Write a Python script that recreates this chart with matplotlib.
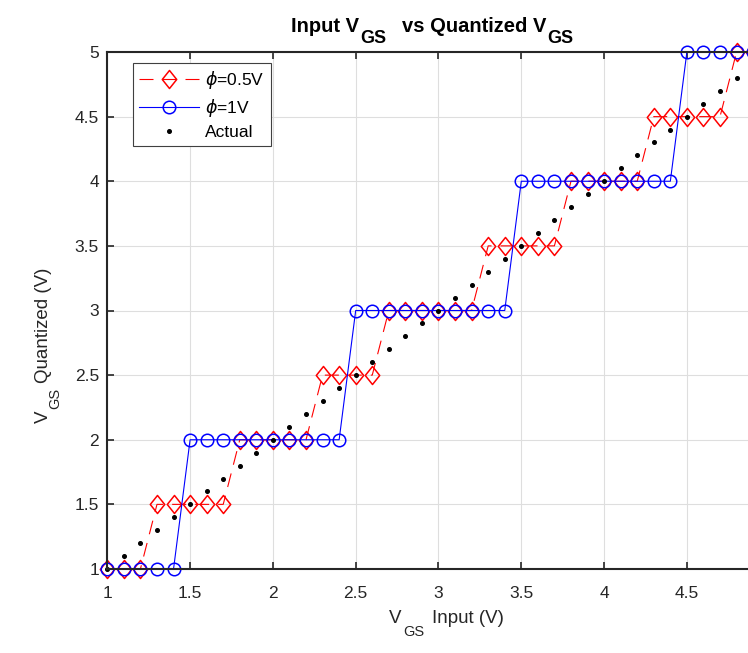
import matplotlib
matplotlib.use("Agg")
import matplotlib.pyplot as plt
from matplotlib.path import Path
from matplotlib.transforms import IdentityTransform
from matplotlib.font_manager import FontProperties

plt.rcParams["font.family"] = ["Liberation Sans", "DejaVu Sans"]
plt.rcParams["mathtext.default"] = "regular"

# ── Data ──────────────────────────────────────────────────────────────────────
vgs_in = [1.0, 1.1, 1.2, 1.3, 1.4, 1.5, 1.6, 1.7, 1.8, 1.9,
          2.0, 2.1, 2.2, 2.3, 2.4, 2.5, 2.6, 2.7, 2.8, 2.9,
          3.0, 3.1, 3.2, 3.3, 3.4, 3.5, 3.6, 3.7, 3.8, 3.9,
          4.0, 4.1, 4.2, 4.3, 4.4, 4.5, 4.6, 4.7, 4.8, 4.9]
q_half = [1, 1, 1, 1.5, 1.5, 1.5, 1.5, 1.5, 2, 2,
          2, 2, 2, 2.5, 2.5, 2.5, 2.5, 3, 3, 3,
          3, 3, 3, 3.5, 3.5, 3.5, 3.5, 3.5, 4, 4,
          4, 4, 4, 4.5, 4.5, 4.5, 4.5, 4.5, 5, 5]
q_one = [1, 1, 1, 1, 1, 2, 2, 2, 2, 2,
         2, 2, 2, 2, 2, 3, 3, 3, 3, 3,
         3, 3, 3, 3, 3, 4, 4, 4, 4, 4,
         4, 4, 4, 4, 4, 5, 5, 5, 5, 5]
actual = [1.0, 1.1, 1.2, 1.3, 1.4, 1.5, 1.6, 1.7, 1.8, 1.9,
          2.0, 2.1, 2.2, 2.3, 2.4, 2.5, 2.6, 2.7, 2.8, 2.9,
          3.0, 3.1, 3.2, 3.3, 3.4, 3.5, 3.6, 3.7, 3.8, 3.9,
          4.0, 4.1, 4.2, 4.3, 4.4, 4.5, 4.6, 4.7, 4.8, 4.9]

x_ticks = [1, 1.5, 2, 2.5, 3, 3.5, 4, 4.5]
y_ticks = [1, 1.5, 2, 2.5, 3, 3.5, 4, 4.5, 5]

AX_COL = "#262626"
W, H = 748, 653

# MATLAB-style diamond (a little taller than wide)
DIAMOND = Path([(0, 1), (0.8, 0), (0, -1), (-0.8, 0), (0, 1)],
               [Path.MOVETO, Path.LINETO, Path.LINETO, Path.LINETO, Path.CLOSEPOLY])

# ── Figure ────────────────────────────────────────────────────────────────────
fig = plt.figure(figsize=(W / 100, H / 100), dpi=100)
ax = fig.add_axes([107.3 / W, (H - 569) / H, 662.4 / W, 517 / H])

ax.plot(vgs_in, q_half, color="red", ls=(0, (12.6, 8.1)), lw=0.8,
        marker=DIAMOND, ms=13, mfc="none", mec="red", mew=1.1,
        label=r"$\mathit{\phi}$=0.5V", clip_on=False)
ax.plot(vgs_in, q_one, color="blue", ls="-", lw=0.8,
        marker="o", ms=9, mfc="none", mec="blue", mew=1.1,
        label=r"$\mathit{\phi}$=1V", clip_on=False)
ax.plot(vgs_in, actual, ls="none", marker="o", ms=2.6, color="black",
        label="Actual", clip_on=False)

ax.set_xlim(1, 5)
ax.set_ylim(1, 5)
ax.set_xticks(x_ticks)
ax.set_xticklabels([f"{t:g}" for t in x_ticks])
ax.set_yticks(y_ticks)
ax.set_yticklabels([f"{t:g}" for t in y_ticks])

ax.grid(True, color="#dedede", lw=0.8)
ax.set_axisbelow(True)
for side in ["left", "bottom", "top", "right"]:
    ax.spines[side].set_color(AX_COL)
    ax.spines[side].set_linewidth(1.5)
ax.tick_params(direction="in", length=5, width=1.2, colors=AX_COL,
               top=True, right=True, labelsize=12.5)
ax.tick_params(axis="x", pad=12)
ax.tick_params(axis="y", pad=6)

leg = ax.legend(loc="upper left", bbox_to_anchor=(0.039, 0.979), borderaxespad=0,
                fontsize=12.5, frameon=True, fancybox=False, edgecolor="#404040",
                framealpha=1, handlelength=3.46, borderpad=0.35,
                labelspacing=0.35, handletextpad=0.35)
leg.get_frame().set_linewidth(0.8)


# ── Labels with MATLAB-style (large, low) subscripts ─────────────────────────
renderer = fig.canvas.get_renderer()


def sub_label(parts, base, sub_base, size, sub_size, weight="normal",
              color=AX_COL, sub_gap=1.5):
    """parts: list of (string, start); start=None puts the piece as a
    subscript right after the previous one. Pixels from the top-left."""
    pos = 0
    for s, start in parts:
        is_sub = start is None
        prop = FontProperties(family="Liberation Sans",
                              size=sub_size if is_sub else size, weight=weight)
        if is_sub:
            start = pos + sub_gap
        b = sub_base if is_sub else base
        fig.text(start, H - b, s, fontproperties=prop, color=color,
                 ha="left", va="baseline", transform=IdentityTransform())
        w, _, _ = renderer.get_text_width_height_descent(s, prop, ismath=False)
        pos = start + w


def sub_label_v(parts, base, sub_base, size, sub_size, sub_gap=1.5):
    # vertical version: text runs upwards, subscripts drop to the right
    pos = 0
    for s, start in parts:
        is_sub = start is None
        prop = FontProperties(family="Liberation Sans",
                              size=sub_size if is_sub else size)
        if is_sub:
            start = pos - sub_gap
        b = sub_base if is_sub else base
        fig.text(b, H - start, s, fontproperties=prop, color=AX_COL,
                 ha="left", va="baseline", rotation=90,
                 rotation_mode="anchor", transform=IdentityTransform())
        w, _, _ = renderer.get_text_width_height_descent(s, prop, ismath=False)
        pos = start - w


sub_label([("Input V", 290.7), ("GS", None),
           ("vs Quantized V", 401.7), ("GS", None)],
          base=31.7, sub_base=43.3, size=14.5, sub_size=13, weight="bold",
          color="black")
sub_label([("V", 389), ("GS", None), ("Input (V)", 431.7)],
          base=623.3, sub_base=636.5, size=13.5, sub_size=10.5)
sub_label_v([("V", 423), ("GS", None), ("Quantized (V)", 383)],
            base=48.3, sub_base=59, size=13.5, sub_size=10.5)

fig.savefig("out.png", dpi=100, facecolor="white")
